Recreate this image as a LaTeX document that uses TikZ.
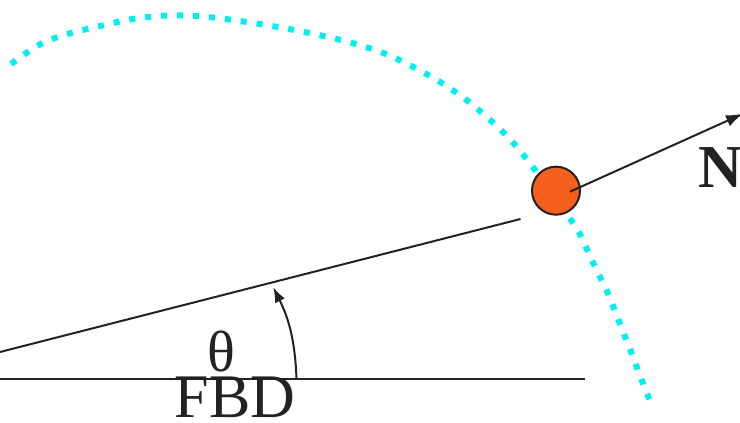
\documentclass[tikz,border=0pt]{standalone}
\usepackage{fontspec}
\setmainfont{Liberation Serif}
\usetikzlibrary{arrows.meta}
\definecolor{ink}{HTML}{222222}
\definecolor{ballorange}{HTML}{F55F1E}
\definecolor{pathcyan}{HTML}{00F0F0}
\tikzset{
  lineseg/.style={draw=ink, line width=2pt},
  trajectory/.style={draw=pathcyan, line width=6pt, dash pattern=on 6pt off 10pt},
  ballstyle/.style={circle, draw=ink, line width=2pt, fill=ballorange, minimum size=48pt, inner sep=0pt},
  forcearrow/.style={draw=ink, line width=2pt, -{Latex[length=17pt,width=12pt]}},
  anglearrow/.style={draw=ink, line width=2pt, -{Latex[length=15pt,width=11pt]}},
  labeltext/.style={text=ink, inner sep=0pt, outer sep=0pt}
}
\begin{document}
\begin{tikzpicture}[x=1pt,y=1pt]
\useasboundingbox (0,0) rectangle (740,423);
% trajectory
\draw[trajectory] plot[smooth, tension=0.55] coordinates {
 (11,359) (40,378.7) (70,389.7) (101.7,397.3) (132.7,404) (164,407.3) (196,407)
 (227.7,403.7) (259.3,399) (290.7,393.7) (322,387.3) (353.3,379.7) (384,369.7)
 (412.7,356.3) (440.7,340.7) (467.3,322.3) (492,301.3) (514.3,279) (534.3,254)
 (553,228) (571.7,202) (580,188.7) (593.3,159.7) (607.7,130.3) (619.3,100.7)
 (631,71.3) (642.3,41.3) (650,22)};
% lines
\coordinate (hA) at (0,44);
\coordinate (hB) at (585,44);
\coordinate (iA) at (0,71);
\coordinate (iB) at (520.5,204);
\draw[lineseg] (hA) -- (hB);
\draw[lineseg] (iA) -- (iB);
% ball
\node[ballstyle] (ball) at (556,232.3) {};
\coordinate (nStart) at (570,231.3);
\coordinate (nTip) at (743,309.3);
\draw[forcearrow] (nStart) -- (nTip);
\node[labeltext, anchor=base west, font=\fontsize{61}{61}\selectfont\bfseries] (N) at (698,235.7) {N};
% angle
\coordinate (aStart) at (296.5,44);
\coordinate (aEnd) at (273.3,135.7);
\draw[anglearrow] (aStart) to[bend right=12] (aEnd);
\node[labeltext, anchor=base, font=\fontsize{58}{58}\selectfont] (theta) at (221.5,51) {θ};
\node[labeltext, anchor=base, font=\fontsize{62}{62}\selectfont] (fbd) at (235,5) {FBD};
\end{tikzpicture}
\end{document}
